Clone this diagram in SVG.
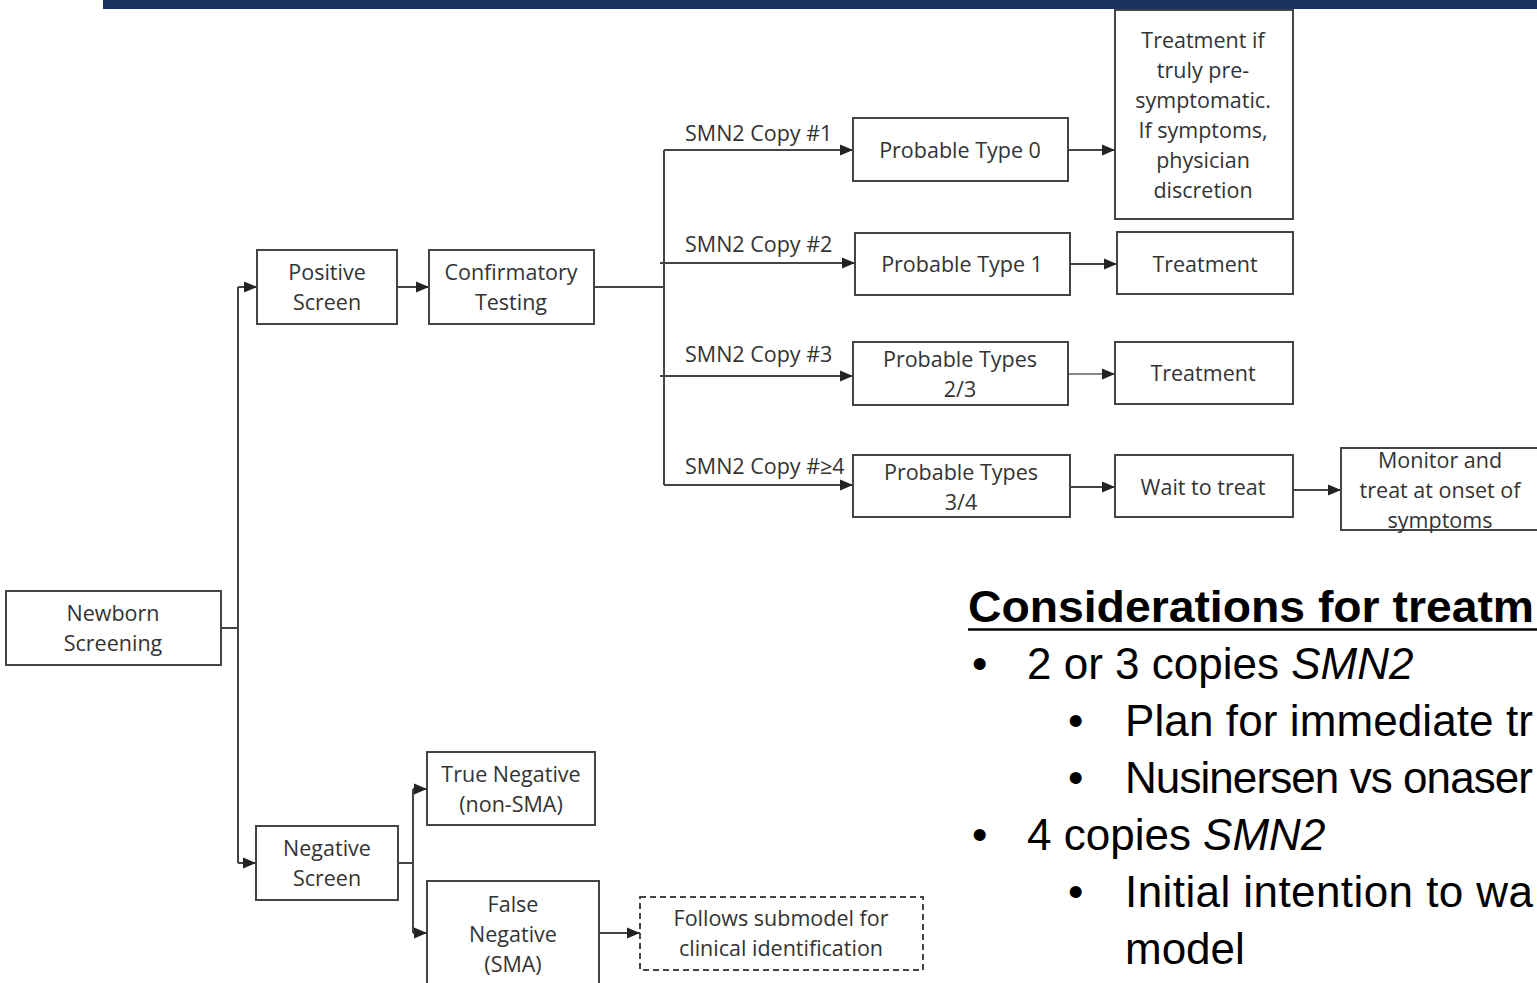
<svg xmlns="http://www.w3.org/2000/svg" width="1537" height="983" viewBox="0 0 1537 983">
<defs>
<style>
.box{fill:#fff;stroke:#444;stroke-width:2}
.dash{fill:#fff;stroke:#444;stroke-width:2;stroke-dasharray:6 4}
.t{font-family:"Open Sans","Liberation Sans",sans-serif;font-size:21.5px;fill:#333;text-anchor:middle}
.lbl{font-family:"Open Sans","Liberation Sans",sans-serif;font-size:21.5px;fill:#333}
.ln{fill:none;stroke:#444;stroke-width:2}
.arr{fill:none;stroke:#444;stroke-width:2;marker-end:url(#ah)}
.side{font-family:"Liberation Sans",Arial,sans-serif;font-size:44px;fill:#000}
</style>
<marker id="ah" markerUnits="userSpaceOnUse" markerWidth="13" markerHeight="12" refX="13" refY="6" orient="auto">
<path d="M0,0.5 L13,6 L0,11.5 z" fill="#222"/>
</marker>
</defs>
<rect width="1537" height="983" fill="#fff"/>
<rect x="103" y="0" width="1434" height="9" fill="#1b3261"/>

<g id="connectors">
<path class="ln" d="M221 628 H238 M238 287 V863"/>
<path class="arr" d="M238 287 H257"/>
<path class="arr" d="M238 863 H256"/>
<path class="arr" d="M397 287 H429"/>
<path class="ln" d="M594 287 H664 M664 150 V485"/>
<path class="arr" d="M664 150 H853"/>
<path class="arr" d="M660 263 H855"/>
<path class="arr" d="M660 376 H853"/>
<path class="arr" d="M664 485 H853"/>
<path class="arr" d="M1068 150 H1115"/>
<path class="arr" d="M1070 264 H1117"/>
<path class="arr" d="M1068 374 H1115" style="stroke:#888"/>
<path class="arr" d="M1070 487 H1115"/>
<path class="arr" d="M1293 490 H1341"/>
<path class="ln" d="M398 863 H413 M413 789 V933"/>
<path class="arr" d="M413 789 H427"/>
<path class="arr" d="M413 933 H427"/>
<path class="arr" d="M599 933 H640"/>
<text class="lbl" x="685" y="141">SMN2 Copy #1</text>
<text class="lbl" x="685" y="252">SMN2 Copy #2</text>
<text class="lbl" x="685" y="362">SMN2 Copy #3</text>
<text class="lbl" x="685" y="474">SMN2 Copy #≥4</text>
</g>

<g id="newborn"><rect class="box" x="6" y="591" width="215" height="74"/><text class="t" x="113" y="621">Newborn</text><text class="t" x="113" y="651">Screening</text></g>
<g id="positive"><rect class="box" x="257" y="250" width="140" height="74"/><text class="t" x="327" y="280">Positive</text><text class="t" x="327" y="310">Screen</text></g>
<g id="confirm"><rect class="box" x="429" y="250" width="165" height="74"/><text class="t" x="511" y="280">Confirmatory</text><text class="t" x="511" y="310">Testing</text></g>
<g id="type0"><rect class="box" x="853" y="118" width="215" height="63"/><text class="t" x="960" y="158">Probable Type 0</text></g>
<g id="type0-tx"><rect class="box" x="1115" y="10" width="178" height="209"/>
<text class="t" x="1203" y="48">Treatment if</text><text class="t" x="1203" y="78">truly pre-</text><text class="t" x="1203" y="108">symptomatic.</text><text class="t" x="1203" y="138">If symptoms,</text><text class="t" x="1203" y="168">physician</text><text class="t" x="1203" y="198">discretion</text></g>
<g id="type1"><rect class="box" x="855" y="233" width="215" height="62"/><text class="t" x="962" y="272">Probable Type 1</text></g>
<g id="type1-tx"><rect class="box" x="1117" y="232" width="176" height="62"/><text class="t" x="1205" y="272">Treatment</text></g>
<g id="type23"><rect class="box" x="853" y="342" width="215" height="63"/><text class="t" x="960" y="367">Probable Types</text><text class="t" x="960" y="397">2/3</text></g>
<g id="type23-tx"><rect class="box" x="1115" y="342" width="178" height="62"/><text class="t" x="1203" y="381">Treatment</text></g>
<g id="type34"><rect class="box" x="853" y="455" width="217" height="62"/><text class="t" x="961" y="480">Probable Types</text><text class="t" x="961" y="510">3/4</text></g>
<g id="wait"><rect class="box" x="1115" y="455" width="178" height="62"/><text class="t" x="1203" y="495">Wait to treat</text></g>
<g id="monitor"><rect class="box" x="1341" y="448" width="205" height="82"/><text class="t" x="1440" y="468">Monitor and</text><text class="t" x="1440" y="498">treat at onset of</text><text class="t" x="1440" y="528">symptoms</text></g>
<g id="negative"><rect class="box" x="256" y="826" width="142" height="74"/><text class="t" x="327" y="856">Negative</text><text class="t" x="327" y="886">Screen</text></g>
<g id="trueneg"><rect class="box" x="427" y="752" width="168" height="73"/><text class="t" x="511" y="782">True Negative</text><text class="t" x="511" y="812">(non-SMA)</text></g>
<g id="falseneg"><rect class="box" x="427" y="881" width="172" height="110"/><text class="t" x="513" y="912">False</text><text class="t" x="513" y="942">Negative</text><text class="t" x="513" y="972">(SMA)</text></g>
<g id="submodel"><rect class="dash" x="640" y="897" width="283" height="73"/><text class="t" x="781" y="926">Follows submodel for</text><text class="t" x="781" y="956">clinical identification</text></g>

<g id="considerations">
<text class="side" x="968" y="622" font-weight="bold" font-size="45" textLength="566" lengthAdjust="spacingAndGlyphs">Considerations for treatm</text>
<line x1="968" y1="629.5" x2="1537" y2="629.5" stroke="#000" stroke-width="2.5"/>
<text class="side" x="972" y="679">•</text>
<text class="side" x="1027" y="679">2 or 3 copies <tspan font-style="italic">SMN2</tspan></text>
<text class="side" x="1068" y="736">•</text>
<text class="side" x="1125" y="736" textLength="408">Plan for immediate tr</text>
<text class="side" x="1068" y="793">•</text>
<text class="side" x="1125" y="793" textLength="408">Nusinersen vs onaser</text>
<text class="side" x="972" y="850">•</text>
<text class="side" x="1027" y="850">4 copies <tspan font-style="italic">SMN2</tspan></text>
<text class="side" x="1068" y="907">•</text>
<text class="side" x="1125" y="907" textLength="408">Initial intention to wa</text>
<text class="side" x="1125" y="964">model</text>
</g>
</svg>
